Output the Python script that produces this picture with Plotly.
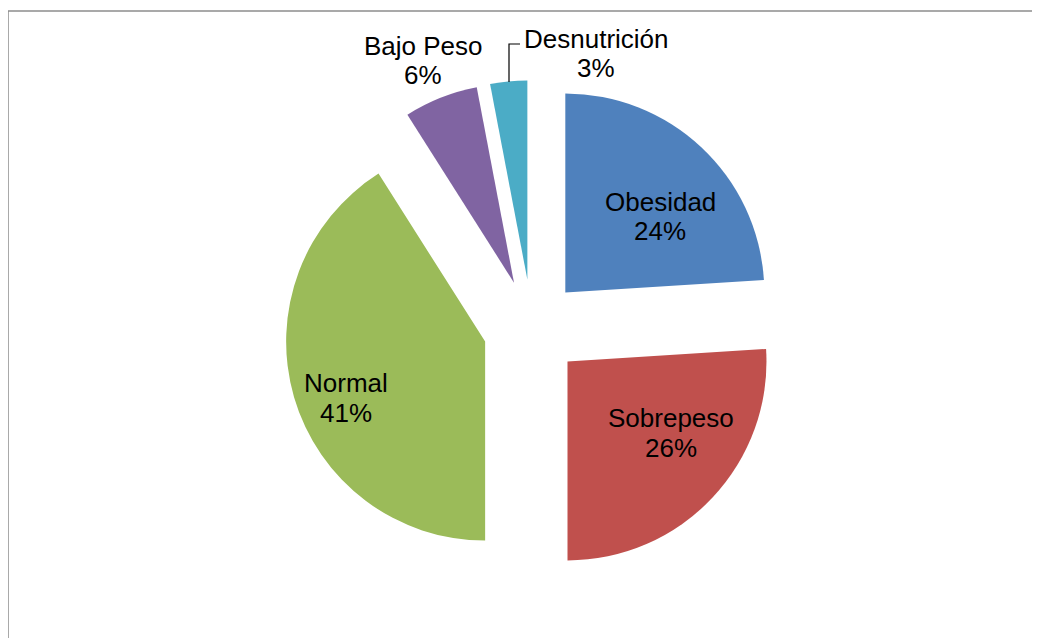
import plotly.graph_objects as go

# 数据
categorias = ["Obesidad", "Sobrepeso", "Normal", "Bajo Peso", "Desnutrición"]
valores = [24, 26, 41, 6, 3]
colores = ["#4F81BD", "#C0504D", "#9BBB59", "#8064A2", "#4BACC6"]

# 标签位置（像素，左上角为原点）：名称行中心、百分比行中心
pos_etiquetas = [
    (660, 202, 231),
    (671, 418, 448),
    (346, 383, 413),
    (423, 46, 75),
    (596, 39, 68),
]

W, H = 1040, 638
OFF = 8  # 页面 body 默认边距


def px(x):
    return (x - OFF) / W


def py(y):
    return 1 - (y - OFF) / H


fig = go.Figure()
fig.add_trace(go.Pie(
    labels=categorias, values=valores, sort=False,
    direction="clockwise", rotation=0,
    pull=[0.245] * len(valores),
    marker=dict(colors=colores, line=dict(width=0)),
    textinfo="none",
    domain=dict(x=[0.1038, 0.9038], y=[0.1101, 0.8867]),
    automargin=False,
    showlegend=False, hoverinfo="label+percent",
))

fuente = dict(family="Liberation Sans, Arial", size=26, color="black")
for cat, val, (x, y1, y2) in zip(categorias, valores, pos_etiquetas):
    fig.add_annotation(x=px(x), y=py(y1), xref="paper", yref="paper", text=cat,
                       showarrow=False, font=fuente, xanchor="center", yanchor="middle")
    fig.add_annotation(x=px(x), y=py(y2), xref="paper", yref="paper", text=f"{val}%",
                       showarrow=False, font=fuente, xanchor="center", yanchor="middle")

# Desnutrición 的引导线
fig.add_shape(type="path", xref="paper", yref="paper",
              path=f"M {px(509)},{py(82)} L {px(509)},{py(44)} L {px(520)},{py(44)}",
              line=dict(color="black", width=1.2))

# 图表外框（只露出左边和上边）
y_sup = 1 - 3 / H
fig.add_shape(type="line", xref="paper", yref="paper",
              x0=0, x1=0, y0=0, y1=y_sup,
              line=dict(color="#8c8c8c", width=1.5))
fig.add_shape(type="line", xref="paper", yref="paper",
              x0=0, x1=1, y0=y_sup, y1=y_sup,
              line=dict(color="#8c8c8c", width=1.5))

fig.update_layout(
    width=W, height=H,
    margin=dict(l=0, r=0, t=0, b=0, pad=0),
    paper_bgcolor="white", plot_bgcolor="white",
    font=dict(family="Liberation Sans, Arial", color="black"),
)
fig.write_html("out.html")
